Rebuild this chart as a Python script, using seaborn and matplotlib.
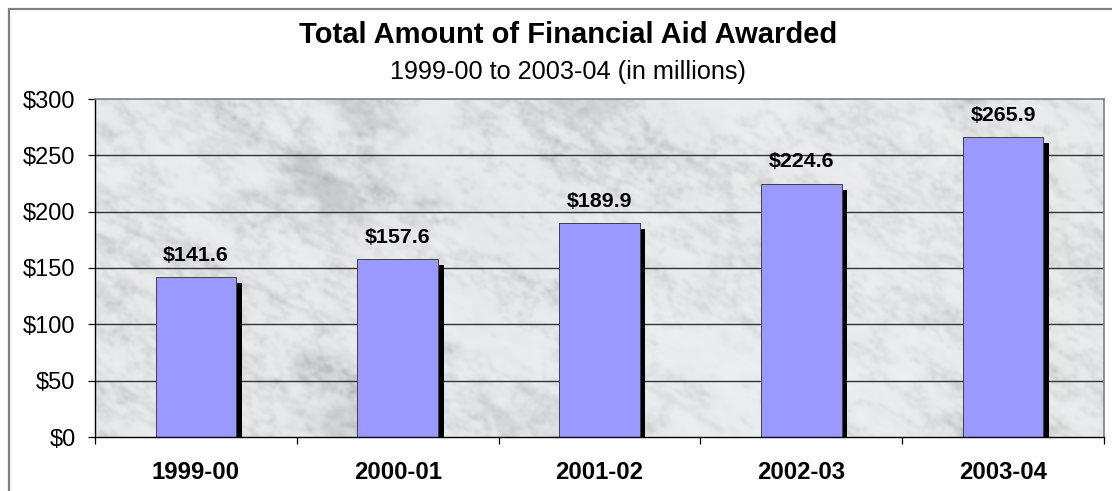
import numpy as np
import pandas as pd
import matplotlib
matplotlib.use("Agg")
import matplotlib.pyplot as plt
import matplotlib.patheffects as pe
from matplotlib.patches import Rectangle
import seaborn as sns

# Data
years = ["1999-00", "2000-01", "2001-02", "2002-03", "2003-04"]
aid_millions = [141.6, 157.6, 189.9, 224.6, 265.9]
y_ticks = [0, 50, 100, 150, 200, 250, 300]
y_tick_labels = ["$0", "$50", "$100", "$150", "$200", "$250", "$300"]

title = "Total Amount of Financial Aid Awarded"
subtitle = "1999-00 to 2003-04 (in millions)"

df = pd.DataFrame({"year": years, "aid": aid_millions})

sns.set_theme(style="white")
plt.rcParams["font.family"] = ["Liberation Sans", "DejaVu Sans"]
plt.rcParams["text.color"] = "black"
plt.rcParams["xtick.color"] = "black"
plt.rcParams["ytick.color"] = "black"

W, H, DPI = 1112, 491, 100
fig = plt.figure(figsize=(W / DPI, H / DPI), dpi=DPI)
fig.patch.set_facecolor("white")

ax_l, ax_r, ax_t, ax_b = 95, 1104, 99, 437
ax = fig.add_axes([ax_l / W, 1 - ax_b / H, (ax_r - ax_l) / W, (ax_b - ax_t) / H])


def _freqs(shape):
    h, w = shape
    return np.fft.fftfreq(h)[:, None], np.fft.fftfreq(w)[None, :]


def streaky_noise(shape, beta, stretch, angle, rng):
    """Power-law filtered noise elongated along `angle`, scaled to 0..1."""
    fy, fx = _freqs(shape)
    c, s = np.cos(angle), np.sin(angle)
    u = fx * c + fy * s
    v = -fx * s + fy * c
    f = np.sqrt((u * stretch) ** 2 + v ** 2)
    f[0, 0] = 1.0
    spec = np.fft.fft2(rng.standard_normal(shape)) / f ** (beta / 2.0)
    spec[0, 0] = 0
    out = np.real(np.fft.ifft2(spec))
    out -= out.min()
    return out / out.max()


def soften(img, sigma):
    fy, fx = _freqs(img.shape)
    g = np.exp(-2 * (np.pi * sigma) ** 2 * (fx ** 2 + fy ** 2))
    return np.real(np.fft.ifft2(np.fft.fft2(img) * g))


# Marble texture for the plot background
rng = np.random.default_rng(11)
th, tw = ax_b - ax_t, ax_r - ax_l
ang = np.deg2rad(30)
patches_n = streaky_noise((th, tw), 2.8, 1.6, ang, rng)
streak_n = streaky_noise((th, tw), 2.6, 3.0, ang, rng)
vein_n = streaky_noise((th, tw), 2.8, 2.0, ang, rng)
soft_n = streaky_noise((th, tw), 2.2, 2.5, ang, rng)

grey_patch = np.clip((patches_n - 0.55) / 0.3, 0, 1) ** 1.5
streaks = np.exp(-np.abs(streak_n - 0.5) / 0.03)
veins = np.exp(-np.abs(vein_n - 0.45) / 0.015)
tone = (0.955 - 0.13 * grey_patch - 0.12 * streaks * (0.3 + soft_n)
        - 0.22 * veins * soft_n - 0.05 * soft_n)
tone = np.clip(soften(tone, 1.4), 0.55, 1.0)
rgb = np.clip(np.dstack([tone * 0.985, tone * 0.99, tone * 1.0]), 0, 1)
ax.imshow(rgb, extent=(-0.5, 4.5, 0, 300), aspect="auto", zorder=0,
          interpolation="bilinear")

# Bars with a black drop shadow
sns.barplot(data=df, x="year", y="aid", color="#9999FF", saturation=1,
            width=0.4, edgecolor="#404040", linewidth=0.7, ax=ax, zorder=3)
for bar in ax.patches:
    bar.set_path_effects([
        pe.SimplePatchShadow(offset=(4, -4), shadow_rgbFace="black", alpha=1.0),
        pe.Normal(),
    ])

for bar, val in zip(ax.patches, aid_millions):
    ax.annotate(f"${val:.1f}", (bar.get_x() + bar.get_width() / 2, val),
                xytext=(0, 9), textcoords="offset points", ha="center",
                va="bottom", fontsize=15.4, fontweight="bold", color="black",
                zorder=5)

ax.set_xlim(-0.5, 4.5)
ax.set_ylim(0, 300)
ax.set_yticks(y_ticks)
ax.set_yticklabels(y_tick_labels)
ax.set_xlabel("")
ax.set_ylabel("")

# Gridlines
for v in y_ticks[1:-1]:
    ax.axhline(v, color="#333333", linewidth=1.0, zorder=1)

# Ticks: y ticks outward, x ticks at category boundaries
ax.tick_params(axis="y", which="major", length=5, width=0.9, color="black",
               direction="out", pad=9, labelsize=17, left=True)
ax.tick_params(axis="x", which="major", length=0, pad=17, labelsize=17.2)
for lab in ax.get_xticklabels():
    lab.set_fontweight("bold")
ax.set_xticks(np.arange(-0.5, 5.0, 1.0), minor=True)
ax.tick_params(axis="x", which="minor", length=5, width=0.9, color="black",
               direction="out", bottom=True)

for side in ["top", "right"]:
    ax.spines[side].set_color("#808080")
    ax.spines[side].set_linewidth(1.2)
for side in ["left", "bottom"]:
    ax.spines[side].set_color("black")
    ax.spines[side].set_linewidth(1.0)
for s in ax.spines.values():
    s.set_zorder(6)

# Titles
fig.text(568 / W, 1 - 35 / H, title, ha="center", va="center",
         fontsize=21, fontweight="bold")
fig.text(568 / W, 1 - 72 / H, subtitle, ha="center", va="center",
         fontsize=18.2)

# Chart border
fig.patches.append(Rectangle((9 / W, -0.1), 1.2, 1 - 8.5 / H + 0.1,
                             transform=fig.transFigure, fill=False,
                             edgecolor="#808080", linewidth=1.6))

fig.savefig("out.png", dpi=DPI)
